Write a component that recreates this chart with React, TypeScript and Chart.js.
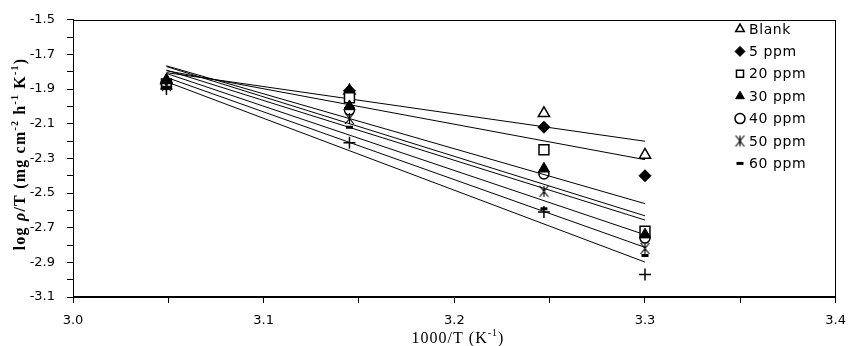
import React, { useEffect, useRef } from 'react';
import { Chart, registerables } from 'chart.js';
import { drawPoint } from 'chart.js/helpers';

Chart.register(...registerables);

// ---- data ----
const xValues = [3.049, 3.145, 3.247, 3.3];
const seriesNames = ['Blank', '5 ppm', '20 ppm', '30 ppm', '40 ppm', '50 ppm', '60 ppm', ''];
const blank = [-1.85, -1.91, -2.04, -2.28];
const ppm5 = [-1.86, -1.91, -2.12, -2.4];
const ppm20 = [-1.87, -1.95, -2.25, -2.72];
const ppm30 = [-1.85, -2.0, -2.36, -2.74];
const ppm40 = [-1.87, -2.02, -2.39, -2.76];
const ppm50 = [-1.88, -2.07, -2.49, -2.82];
const ppm60 = [-1.89, -2.12, -2.59, -2.86];
const ppmExtra = [-1.9, -2.21, -2.61, -2.97];
const allSeries = [blank, ppm5, ppm20, ppm30, ppm40, ppm50, ppm60, ppmExtra];
const legendCount = 7;

const yTickLabels = ['-1.5', '-1.7', '-1.9', '-2.1', '-2.3', '-2.5', '-2.7', '-2.9', '-3.1'];
const xTickLabels = ['3.0', '3.1', '3.2', '3.3', '3.4'];

function makeStar(size: number, lw: number) {
  const c = document.createElement('canvas');
  c.width = size;
  c.height = size;
  const g = c.getContext('2d')!;
  const h = size / 2;
  const r = h - 1;
  g.strokeStyle = '#000';
  g.lineWidth = lw;
  g.beginPath();
  g.moveTo(h - r * 0.8, h - r);
  g.lineTo(h + r * 0.8, h + r);
  g.moveTo(h - r * 0.8, h + r);
  g.lineTo(h + r * 0.8, h - r);
  g.moveTo(h, h - r);
  g.lineTo(h, h + r);
  g.stroke();
  return c;
}

function regression(xs: number[], ys: number[]) {
  const n = xs.length;
  const mx = xs.reduce((a, b) => a + b, 0) / n;
  const my = ys.reduce((a, b) => a + b, 0) / n;
  let sxy = 0;
  let sxx = 0;
  for (let i = 0; i < n; i++) {
    sxy += (xs[i] - mx) * (ys[i] - my);
    sxx += (xs[i] - mx) * (xs[i] - mx);
  }
  const m = sxy / sxx;
  const b = my - m * mx;
  const x0 = Math.min(...xs);
  const x1 = Math.max(...xs);
  return [
    { x: x0, y: m * x0 + b },
    { x: x1, y: m * x1 + b },
  ];
}

type Part = { t: string; sup?: boolean; italic?: boolean };

function drawRich(ctx: CanvasRenderingContext2D, parts: Part[], cx: number, cy: number, rot: number, size: number, weight: string, spacing: number) {
  ctx.save();
  ctx.translate(cx, cy);
  ctx.rotate(rot);
  ctx.fillStyle = '#000';
  ctx.textBaseline = 'alphabetic';
  ctx.textAlign = 'left';
  const fontFor = (p: Part) => `${p.italic ? 'italic ' : ''}${weight} ${p.sup ? Math.round(size * 0.62) : size}px "Liberation Serif", "Times New Roman", serif`;
  (ctx as any).letterSpacing = spacing + 'px';
  let total = 0;
  const widths: number[] = [];
  for (const p of parts) {
    ctx.font = fontFor(p);
    const w = ctx.measureText(p.t).width;
    widths.push(w);
    total += w;
  }
  let x = -total / 2;
  parts.forEach((p, i) => {
    ctx.font = fontFor(p);
    ctx.fillText(p.t, x, p.sup ? size * 0.35 - size * 0.42 : size * 0.35);
    x += widths[i];
  });
  ctx.restore();
}

export default function App() {
  const ref = useRef<HTMLCanvasElement>(null);

  useEffect(() => {
    document.body.style.margin = '0';
    const star = makeStar(13, 1.2);
    const styles: any[] = [
      { pointStyle: 'triangle', radius: 6.5, bg: '#fff', bw: 1.5 },
      { pointStyle: 'rectRot', radius: 6, bg: '#000', bw: 1 },
      { pointStyle: 'rect', radius: 7, bg: '#fff', bw: 1.5 },
      { pointStyle: 'triangle', radius: 6.5, bg: '#000', bw: 1 },
      { pointStyle: 'circle', radius: 5, bg: 'rgba(0,0,0,0)', bw: 1.5 },
      { pointStyle: star, radius: 6, bg: '#000', bw: 1 },
      { pointStyle: 'line', radius: 3.5, bg: '#000', bw: 3 },
      { pointStyle: 'cross', radius: 6, bg: '#000', bw: 1.5 },
    ];

    const datasets: any[] = [];
    allSeries.forEach((ys, i) => {
      datasets.push({
        type: 'line',
        label: 'trend ' + i,
        data: regression(xValues, ys),
        borderColor: '#000',
        borderWidth: 1,
        pointRadius: 0,
        showLine: true,
        fill: false,
        order: 200 + i,
      });
    });
    allSeries.forEach((ys, i) => {
      const s = styles[i];
      datasets.push({
        type: 'scatter',
        label: seriesNames[i],
        data: ys.map((y, k) => ({ x: xValues[k], y })),
        pointStyle: s.pointStyle,
        pointRadius: s.radius,
        pointHoverRadius: s.radius,
        pointBackgroundColor: s.bg,
        pointBorderColor: '#000',
        pointBorderWidth: s.bw,
        showLine: false,
        order: 100 - i,
      });
    });

    const overlay = {
      id: 'overlay',
      afterDraw(chart: any) {
        const ctx: CanvasRenderingContext2D = chart.ctx;
        const a = chart.chartArea;
        ctx.save();
        ctx.strokeStyle = '#000';
        ctx.lineWidth = 1;
        ctx.strokeRect(Math.round(a.left) + 0.5, Math.round(a.top) + 0.5, Math.round(a.right - a.left) - 1, Math.round(a.bottom - a.top) - 1);

        // legend
        for (let i = 0; i < legendCount; i++) {
          const s = styles[i];
          const y = 29 + i * 22.4;
          const mx = 740;
          ctx.fillStyle = s.bg;
          ctx.strokeStyle = '#000';
          ctx.lineWidth = s.bw;
          drawPoint(ctx, { pointStyle: s.pointStyle, radius: s.pointStyle === 'line' ? 3.5 : 5, rotation: 0, borderWidth: s.bw } as any, mx, y);
          ctx.fillStyle = '#000';
          ctx.font = '14px "DejaVu Sans", sans-serif';
          (ctx as any).letterSpacing = '0.6px';
          ctx.textBaseline = 'middle';
          ctx.textAlign = 'left';
          ctx.fillText(seriesNames[i], 749, y + 1);
        }
        (ctx as any).letterSpacing = '0px';
        ctx.restore();

        drawRich(ctx, [{ t: '1000/T (K' }, { t: '-1', sup: true }, { t: ')' }], 458, 337, 0, 16, 'normal', 1);
        drawRich(
          ctx,
          [
            { t: 'log ' },
            { t: 'ρ', italic: true },
            { t: '/T (mg cm' },
            { t: '-2', sup: true },
            { t: ' h' },
            { t: '-1', sup: true },
            { t: ' K' },
            { t: '-1', sup: true },
            { t: ')' },
          ],
          19,
          154,
          -Math.PI / 2,
          16,
          'bold',
          1.2
        );
      },
    };

    const chart = new Chart(ref.current!, {
      type: 'scatter',
      data: { datasets },
      options: {
        responsive: false,
        animation: false,
        events: [],
        layout: { padding: { top: 11, right: 13, left: 0, bottom: 0 } },
        plugins: { legend: { display: false }, tooltip: { enabled: false }, title: { display: false } },
        scales: {
          x: {
            type: 'linear',
            min: 3.0,
            max: 3.4,
            afterFit: (s: any) => {
              s.height = 49;
            },
            grid: { drawOnChartArea: false, drawTicks: true, tickLength: 6, color: '#000', lineWidth: 1 },
            border: { display: true, color: '#000', width: 1 },
            ticks: {
              stepSize: 0.05,
              autoSkip: false,
              maxRotation: 0,
              padding: 10,
              color: '#000',
              font: { family: '"DejaVu Sans", sans-serif', size: 13 },
              callback: (v: any) => {
                const n = Number(v);
                const s = n.toFixed(1);
                return Math.abs(n * 10 - Math.round(n * 10)) < 1e-6 && xTickLabels.includes(s) ? s : '';
              },
            },
          },
          y: {
            type: 'linear',
            min: -3.1,
            max: -1.5,
            afterFit: (s: any) => {
              s.width = 73;
            },
            grid: { drawOnChartArea: false, drawTicks: true, tickLength: 6, color: '#000', lineWidth: 1 },
            border: { display: true, color: '#000', width: 1 },
            ticks: {
              stepSize: 0.1,
              autoSkip: false,
              padding: 12,
              color: '#000',
              font: { family: '"DejaVu Sans", sans-serif', size: 13 },
              callback: (v: any) => {
                const s = Number(v).toFixed(1);
                return yTickLabels.includes(s) ? s : '';
              },
            },
          },
        },
      },
      plugins: [overlay],
    } as any);

    return () => chart.destroy();
  }, []);

  return <canvas ref={ref} width={856} height={346} style={{ display: 'block', width: 856, height: 346 }} />;
}
